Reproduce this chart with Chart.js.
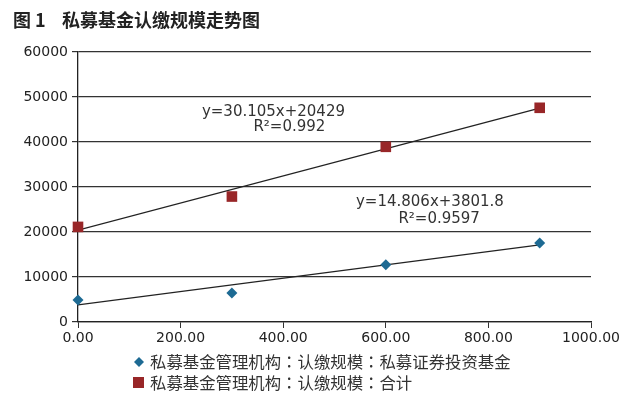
<!DOCTYPE html>
<html>
<head>
<meta charset="utf-8">
<script src="https://cdn.jsdelivr.net/npm/chart.js@4.4.1/dist/chart.umd.min.js"></script>
<style>
  body { margin: 0; background: #fff; }
  #wrap { width: 633px; height: 398px; }
</style>
</head>
<body>
<div id="wrap"><canvas id="trendChart" width="633" height="398"></canvas></div>
<script>
// 数据
const xValues = [0, 300, 600, 900];
const securitiesFund = [4890, 6450, 12750, 17580];   // 私募证券投资基金
const totalFund = [21130, 27880, 38930, 47600];      // 合计
const trendX = [0, 900];
const securitiesTrend = [3801.8, 17127];
const totalTrend = [20429, 47524];
const xTicks = [0, 200, 400, 600, 800, 1000];
const yTicks = [0, 10000, 20000, 30000, 40000, 50000, 60000];

const titleText = "私募基金认缴规模走势图";
const legendLabels = [
    "私募基金管理机构：认缴规模：私募证券投资基金",
    "私募基金管理机构：认缴规模：合计"
];
// 趋势线公式
const equations = [
    { text: "y=30.105x+20429", x: 381, y: 46560 },
    { text: "R²=0.992", x: 412, y: 43230 },
    { text: "y=14.806x+3801.8", x: 686, y: 26540 },
    { text: "R²=0.9597", x: 704, y: 22760 }
];

const blue = "#1d6a93";
const red = "#982628";
const tickFont = { family: "DejaVu Sans", size: 14 };

function toPoints(xs, ys) {
    return xs.map((x, i) => ({ x: x, y: ys[i] }));
}

const extras = {
    id: "extras",
    afterDraw(chart) {
        const c = chart.ctx;
        const xs = chart.scales.x, ys = chart.scales.y;
        c.save();
        // 公式
        c.fillStyle = "#333";
        c.font = "15px 'DejaVu Sans'";
        c.textAlign = "center";
        c.textBaseline = "middle";
        equations.forEach(e => {
            c.fillText(e.text, xs.getPixelForValue(e.x), ys.getPixelForValue(e.y));
        });
        // 标题
        c.textAlign = "left";
        c.fillStyle = "#222";
        c.font = "bold 18px 'Noto Sans CJK SC'";
        c.fillText("图 1", 13, 20);
        c.fillText(titleText, 62, 20);
        // 图例
        c.font = "16.4px 'Noto Sans CJK TC', 'Noto Sans CJK SC'";
        c.fillStyle = "#333";
        c.fillText(legendLabels[0], 150, 362);
        c.fillText(legendLabels[1], 150, 383);
        c.fillStyle = blue;
        c.beginPath();
        c.moveTo(139, 357); c.lineTo(144, 362); c.lineTo(139, 367); c.lineTo(134, 362);
        c.closePath();
        c.fill();
        c.fillStyle = red;
        c.fillRect(133, 377, 11, 11);
        c.restore();
    }
};

new Chart(document.getElementById("trendChart"), {
    type: "scatter",
    data: {
        datasets: [{
            label: legendLabels[0],
            data: toPoints(xValues, securitiesFund),
            pointStyle: "rectRot",
            pointRadius: 5.5,
            backgroundColor: blue,
            borderColor: blue,
            borderWidth: 0,
            clip: false,
            order: 0
        }, {
            label: legendLabels[1],
            data: toPoints(xValues, totalFund),
            pointStyle: "rect",
            pointRadius: 7.5,
            backgroundColor: red,
            borderColor: red,
            borderWidth: 0,
            clip: false,
            order: 0
        }, {
            label: "trend1",
            data: toPoints(trendX, securitiesTrend),
            showLine: true,
            pointRadius: 0,
            borderColor: "#222",
            borderWidth: 1.3,
            order: 1
        }, {
            label: "trend2",
            data: toPoints(trendX, totalTrend),
            showLine: true,
            pointRadius: 0,
            borderColor: "#222",
            borderWidth: 1.3,
            order: 1
        }]
    },
    options: {
        responsive: false,
        animation: false,
        devicePixelRatio: 1,
        layout: { padding: { left: 0, right: 42, top: 52, bottom: 46 } },
        plugins: {
            legend: { display: false },
            title: { display: false },
            tooltip: { enabled: false }
        },
        scales: {
            x: {
                type: "linear",
                min: 0,
                max: 1000,
                afterFit: s => { s.height = 30; },
                afterBuildTicks: s => { s.ticks = xTicks.map(v => ({ value: v })); },
                ticks: {
                    color: "#222",
                    font: tickFont,
                    padding: 2,
                    maxRotation: 0,
                    callback: v => Number(v).toFixed(2)
                },
                grid: { drawOnChartArea: false, drawTicks: true, tickLength: 6, color: "#333" },
                border: { display: true, color: "#222", width: 1.3 }
            },
            y: {
                type: "linear",
                min: 0,
                max: 60000,
                afterFit: s => { s.width = 78; },
                afterBuildTicks: s => { s.ticks = yTicks.map(v => ({ value: v })); },
                ticks: { color: "#222", font: tickFont, padding: 4, callback: v => String(v) },
                grid: { color: "#333", lineWidth: 1.2, drawTicks: true, tickLength: 6 },
                border: { display: true, color: "#222", width: 1.3 }
            }
        }
    },
    plugins: [extras]
});
</script>
</body>
</html>
